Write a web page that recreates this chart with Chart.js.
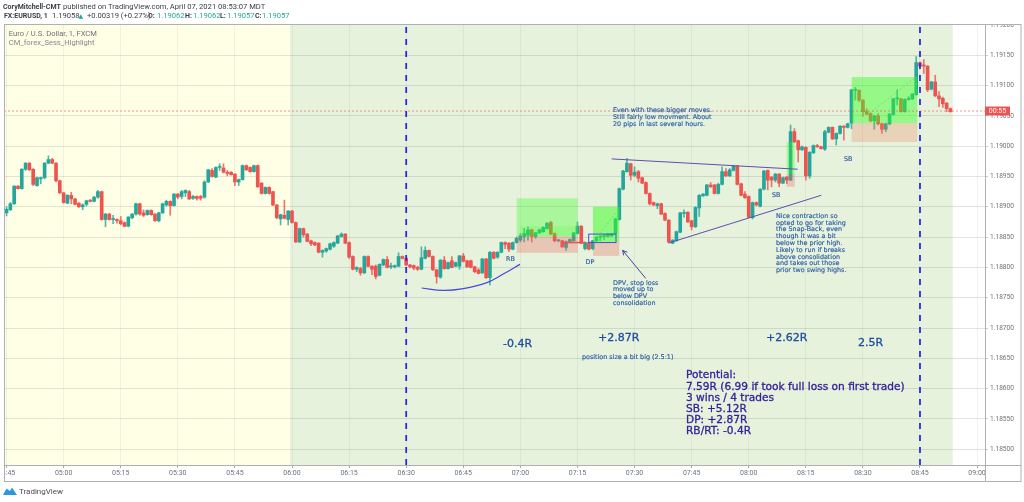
<!DOCTYPE html>
<html><head><meta charset="utf-8">
<style>html,body{margin:0;padding:0;background:#fff}canvas{display:block}</style>
<script src="https://cdn.jsdelivr.net/npm/chart.js@4/dist/chart.umd.min.js"></script>
</head><body><canvas id="c" width="1024" height="502"></canvas>
<script>
// minutes relative to 05:00; first candle is 04:45
const firstMinute = -15;
const tickMinutes = [-15,0,15,30,45,60,75,90,105,120,135,150,165,180,195,210,225,240];
const tickLabels = ['04:45','05:00','05:15','05:30','05:45','06:00','06:15','06:30','06:45','07:00','07:15','07:30','07:45','08:00','08:15','08:30','08:45','09:00'];
const priceTicks = [1.185,1.1855,1.186,1.1865,1.187,1.1875,1.188,1.1885,1.189,1.1895,1.19,1.1905,1.191,1.1915,1.192];
const opens = [
1.18890,1.18895,1.18905,1.18934,1.18930,1.18962,1.18972,1.18962,1.18935,1.18946,
1.18948,1.18972,1.18978,1.18972,1.18943,1.18923,1.18906,1.18919,1.18913,1.18906,
1.18900,1.18904,1.18911,1.18909,1.18916,1.18925,1.18879,1.18888,1.18879,1.18879,
1.18877,1.18874,1.18868,1.18882,1.18888,1.18905,1.18890,1.18887,1.18894,1.18888,
1.18877,1.18890,1.18903,1.18909,1.18902,1.18921,1.18917,1.18923,1.18925,1.18914,
1.18917,1.18917,1.18916,1.18941,1.18960,1.18949,1.18965,1.18964,1.18957,1.18957,
1.18954,1.18941,1.18945,1.18968,1.18965,1.18958,1.18968,1.18939,1.18922,1.18932,
1.18925,1.18903,1.18880,1.18886,1.18879,1.18893,1.18874,1.18842,1.18864,1.18855,
1.18844,1.18841,1.18840,1.18825,1.18827,1.18830,1.18835,1.18840,1.18851,1.18855,
1.18841,1.18818,1.18797,1.18798,1.18791,1.18818,1.18802,1.18802,1.18787,1.18804,
1.18813,1.18801,1.18801,1.18802,1.18818,1.18815,1.18804,1.18803,1.18800,1.18797,
1.18815,1.18828,1.18818,1.18796,1.18784,1.18812,1.18798,1.18811,1.18802,1.18802,
1.18819,1.18811,1.18811,1.18801,1.18796,1.18791,1.18814,1.18783,1.18825,1.18817,
1.18825,1.18841,1.18840,1.18830,1.18841,1.18845,1.18851,1.18853,1.18862,1.18851,
1.18857,1.18859,1.18864,1.18874,1.18856,1.18844,1.18844,1.18833,1.18842,1.18844,
1.18856,1.18868,1.18831,1.18841,1.18831,1.18844,1.18850,1.18851,1.18851,1.18852,
1.18856,1.18879,1.18929,1.18958,1.18971,1.18952,1.18958,1.18948,1.18940,1.18922,
1.18907,1.18902,1.18905,1.18889,1.18878,1.18840,1.18844,1.18858,1.18889,1.18891,
1.18877,1.18867,1.18898,1.18918,1.18919,1.18936,1.18936,1.18922,1.18937,1.18958,
1.18951,1.18960,1.18967,1.18938,1.18921,1.18917,1.18882,1.18907,1.18901,1.18929,
1.18960,1.18949,1.18944,1.18954,1.18939,1.18949,1.18944,1.19024,1.19009,1.18994,
1.18998,1.18951,1.18989,1.19001,1.18999,1.18995,1.19023,1.19031,1.19012,1.19021,
1.19033,1.19031,1.19038,1.19092,1.19092,1.19076,1.19057,1.19054,1.19042,1.19050,
1.19037,1.19028,1.19037,1.19052,1.19078,1.19078,1.19057,1.19077,1.19078,1.19085,
1.19138,1.19134,1.19132,1.19094,1.19106,1.19083,1.19079,1.19071,1.19062];
const closes = [
1.18896,1.18905,1.18934,1.18930,1.18962,1.18972,1.18961,1.18937,1.18948,1.18948,
1.18972,1.18978,1.18972,1.18943,1.18923,1.18907,1.18919,1.18913,1.18904,1.18900,
1.18903,1.18910,1.18909,1.18916,1.18925,1.18879,1.18888,1.18879,1.18880,1.18877,
1.18872,1.18868,1.18883,1.18888,1.18905,1.18888,1.18886,1.18894,1.18887,1.18877,
1.18890,1.18905,1.18909,1.18902,1.18921,1.18916,1.18925,1.18927,1.18913,1.18917,
1.18914,1.18914,1.18941,1.18961,1.18950,1.18965,1.18966,1.18957,1.18955,1.18953,
1.18941,1.18945,1.18968,1.18961,1.18958,1.18968,1.18933,1.18922,1.18932,1.18922,
1.18903,1.18882,1.18887,1.18881,1.18893,1.18874,1.18842,1.18864,1.18854,1.18843,
1.18839,1.18837,1.18825,1.18828,1.18831,1.18839,1.18841,1.18852,1.18855,1.18840,
1.18817,1.18797,1.18800,1.18791,1.18818,1.18802,1.18797,1.18785,1.18805,1.18813,
1.18800,1.18802,1.18803,1.18818,1.18815,1.18804,1.18801,1.18799,1.18797,1.18816,
1.18828,1.18818,1.18796,1.18785,1.18812,1.18798,1.18808,1.18800,1.18808,1.18819,
1.18810,1.18801,1.18800,1.18793,1.18790,1.18814,1.18783,1.18825,1.18815,1.18825,
1.18841,1.18838,1.18830,1.18841,1.18848,1.18852,1.18856,1.18862,1.18851,1.18857,
1.18862,1.18866,1.18873,1.18855,1.18844,1.18845,1.18834,1.18842,1.18846,1.18857,
1.18868,1.18840,1.18841,1.18830,1.18844,1.18850,1.18851,1.18852,1.18855,1.18855,
1.18880,1.18930,1.18959,1.18972,1.18952,1.18957,1.18947,1.18939,1.18922,1.18905,
1.18903,1.18905,1.18888,1.18878,1.18842,1.18845,1.18859,1.18890,1.18890,1.18875,
1.18867,1.18899,1.18919,1.18921,1.18936,1.18933,1.18922,1.18937,1.18958,1.18951,
1.18961,1.18967,1.18937,1.18919,1.18915,1.18883,1.18907,1.18903,1.18929,1.18959,
1.18944,1.18944,1.18954,1.18939,1.18948,1.18944,1.19024,1.19007,1.18994,1.18999,
1.18951,1.18990,1.19001,1.18999,1.18996,1.19024,1.19031,1.19012,1.19021,1.19033,
1.19031,1.19037,1.19093,1.19093,1.19076,1.19057,1.19053,1.19042,1.19050,1.19037,
1.19028,1.19037,1.19053,1.19078,1.19079,1.19057,1.19077,1.19078,1.19086,1.19138,
1.19132,1.19132,1.19093,1.19106,1.19083,1.19078,1.19070,1.19062,1.19057];
const highs = [
1.18900,1.18907,1.18935,1.18935,1.18963,1.18973,1.18973,1.18963,1.18949,1.18949,
1.18973,1.18984,1.18980,1.18973,1.18944,1.18924,1.18920,1.18924,1.18914,1.18907,
1.18905,1.18911,1.18912,1.18917,1.18927,1.18926,1.18889,1.18889,1.18886,1.18880,
1.18884,1.18875,1.18884,1.18889,1.18906,1.18906,1.18895,1.18895,1.18895,1.18889,
1.18891,1.18906,1.18911,1.18910,1.18922,1.18922,1.18927,1.18928,1.18927,1.18919,
1.18918,1.18919,1.18943,1.18962,1.18963,1.18966,1.18971,1.18971,1.18960,1.18958,
1.18955,1.18946,1.18969,1.18969,1.18966,1.18969,1.18969,1.18940,1.18933,1.18933,
1.18926,1.18904,1.18888,1.18911,1.18894,1.18894,1.18875,1.18865,1.18865,1.18856,
1.18845,1.18842,1.18841,1.18829,1.18832,1.18840,1.18842,1.18853,1.18857,1.18856,
1.18842,1.18819,1.18801,1.18800,1.18819,1.18819,1.18803,1.18804,1.18806,1.18814,
1.18818,1.18807,1.18804,1.18824,1.18819,1.18816,1.18805,1.18804,1.18802,1.18834,
1.18834,1.18829,1.18819,1.18797,1.18813,1.18818,1.18809,1.18818,1.18809,1.18820,
1.18823,1.18812,1.18812,1.18802,1.18798,1.18815,1.18815,1.18826,1.18826,1.18826,
1.18842,1.18842,1.18841,1.18842,1.18850,1.18856,1.18864,1.18867,1.18863,1.18858,
1.18863,1.18867,1.18874,1.18876,1.18857,1.18846,1.18845,1.18844,1.18847,1.18858,
1.18875,1.18869,1.18842,1.18842,1.18845,1.18851,1.18853,1.18854,1.18856,1.18856,
1.18881,1.18931,1.18960,1.18980,1.18972,1.18966,1.18960,1.18949,1.18941,1.18923,
1.18908,1.18906,1.18906,1.18890,1.18879,1.18846,1.18860,1.18891,1.18895,1.18892,
1.18878,1.18900,1.18920,1.18922,1.18937,1.18940,1.18937,1.18939,1.18966,1.18963,
1.18963,1.18968,1.18968,1.18939,1.18925,1.18918,1.18908,1.18908,1.18930,1.18960,
1.18961,1.18950,1.18955,1.18955,1.18949,1.18950,1.19035,1.19029,1.19010,1.19000,
1.18999,1.18991,1.19002,1.19003,1.19000,1.19026,1.19032,1.19032,1.19022,1.19034,
1.19034,1.19038,1.19094,1.19097,1.19093,1.19077,1.19062,1.19055,1.19051,1.19054,
1.19038,1.19038,1.19054,1.19079,1.19093,1.19079,1.19078,1.19082,1.19087,1.19148,
1.19139,1.19143,1.19133,1.19107,1.19117,1.19090,1.19081,1.19072,1.19063];
const lows = [
1.18885,1.18894,1.18904,1.18929,1.18929,1.18960,1.18960,1.18935,1.18934,1.18938,
1.18946,1.18971,1.18971,1.18941,1.18922,1.18906,1.18905,1.18905,1.18903,1.18899,
1.18895,1.18901,1.18908,1.18908,1.18914,1.18878,1.18867,1.18878,1.18872,1.18873,
1.18870,1.18867,1.18867,1.18880,1.18886,1.18886,1.18884,1.18886,1.18886,1.18876,
1.18875,1.18889,1.18901,1.18886,1.18901,1.18913,1.18913,1.18917,1.18912,1.18912,
1.18911,1.18911,1.18914,1.18940,1.18949,1.18948,1.18960,1.18956,1.18951,1.18952,
1.18935,1.18935,1.18944,1.18960,1.18957,1.18957,1.18932,1.18921,1.18921,1.18921,
1.18902,1.18880,1.18870,1.18880,1.18870,1.18873,1.18841,1.18841,1.18850,1.18842,
1.18836,1.18836,1.18824,1.18817,1.18825,1.18829,1.18833,1.18839,1.18850,1.18839,
1.18815,1.18796,1.18793,1.18787,1.18790,1.18801,1.18788,1.18781,1.18786,1.18803,
1.18799,1.18798,1.18799,1.18801,1.18814,1.18803,1.18799,1.18796,1.18795,1.18796,
1.18814,1.18817,1.18795,1.18774,1.18782,1.18797,1.18797,1.18799,1.18801,1.18797,
1.18809,1.18800,1.18799,1.18791,1.18789,1.18790,1.18782,1.18771,1.18814,1.18815,
1.18824,1.18831,1.18826,1.18829,1.18840,1.18842,1.18842,1.18845,1.18842,1.18848,
1.18856,1.18858,1.18863,1.18854,1.18842,1.18842,1.18833,1.18828,1.18841,1.18843,
1.18855,1.18839,1.18829,1.18829,1.18829,1.18843,1.18844,1.18846,1.18850,1.18851,
1.18855,1.18878,1.18928,1.18957,1.18944,1.18950,1.18941,1.18938,1.18921,1.18903,
1.18902,1.18897,1.18887,1.18877,1.18841,1.18839,1.18843,1.18857,1.18883,1.18874,
1.18862,1.18866,1.18884,1.18917,1.18918,1.18932,1.18921,1.18921,1.18936,1.18950,
1.18950,1.18959,1.18936,1.18918,1.18914,1.18882,1.18880,1.18902,1.18900,1.18928,
1.18928,1.18933,1.18941,1.18933,1.18938,1.18938,1.18943,1.19006,1.18974,1.18993,
1.18944,1.18947,1.18988,1.18998,1.18995,1.18993,1.19022,1.19011,1.19002,1.19020,
1.19010,1.19030,1.19029,1.19076,1.19073,1.19049,1.19052,1.19040,1.19028,1.19035,
1.19021,1.19024,1.19035,1.19051,1.19068,1.19056,1.19056,1.19076,1.19077,1.19084,
1.19131,1.19120,1.19090,1.19093,1.19082,1.19065,1.19064,1.19057,1.19056];
const lastPrice = 1.19058;
const sessionEdges = [59.5, 233.6];
const swingArcT = [94.08,99.75,105,111.2,115.5,119.9];
const swingArcP = [1.18766,1.18762,1.18765,1.18775,1.18789,1.18805];
const topTrendT = [144,192.87], topTrendP = [1.18979,1.18962];
const lowTrendT = [158.87,199.07], lowTrendP = [1.18840,1.18919];
const markerMinutes = [90,225];
// [t1,t2,p1,p2,colour]
const zones = [
 [119.04,135.07,1.18914,1.18851,'rgba(50,255,30,.33)'],
 [120.09,135.07,1.18868,1.18851,'rgba(50,255,30,.16)'],
 [119.04,135.07,1.18851,1.18824,'rgba(240,97,97,.3)'],
 [139.09,146,1.18900,1.18842,'rgba(50,255,30,.5)'],
 [139.09,146,1.18842,1.18819,'rgba(240,97,97,.3)'],
 [189.98,192.08,1.19007,1.18954,'rgba(50,255,30,.33)'],
 [189.98,192.08,1.18954,1.18933,'rgba(240,97,97,.3)'],
 [207.06,224.3,1.19114,1.19038,'rgba(50,255,30,.45)'],
 [207.06,224.3,1.19038,1.19007,'rgba(240,120,80,.25)'],
];
const boxZone = [137.96,145.13,1.18855,1.18841];
const stopLine = [130.86,136.98,1.18841];
const projections = [[140.9,1.18856,145.7,1.18895],[212.3,1.19057,224.1,1.19115]];
const arrow = [152.93,1.18782,146.89,1.18828];
const C1='#1c4fa0', C2='#2a5aa6', C3='#35209a';
const SM='6.4px', BG='11px', PT='10.6px';
const notes = [
 ['-0.4R',503,344,BG,C1],['+2.87R',598,338,BG,C1],['+2.62R',766,338,BG,C1],['2.5R',858,343,BG,C1],
 ['position size a bit big (2.5:1)',582,357,SM,C2],
 ['RB',506,259,SM,C2],['DP',585.5,262,SM,C2],['SB',772,195.5,SM,C2],['SB',844,159,SM,C2],
 ['Even with these bigger moves.',613,110,SM,C2],['Still fairly low movment. About',613,117,SM,C2],['20 pips in last several hours.',613,124,SM,C2],
 ['DPV, stop loss',613,283,SM,C2],['moved up to',613,289.7,SM,C2],['below DPV',613,296.4,SM,C2],['consolidation',613,303,SM,C2],
 ['Nice contraction so',776,216.3,SM,C2],['opted to go for taking',776,223,SM,C2],['the Snap-Back, even',776,229.8,SM,C2],['though it was a bit',776,236.6,SM,C2],['below the prior high.',776,243.3,SM,C2],['Likely to run if breaks',776,250,SM,C2],['above consolidation',776,256.9,SM,C2],['and takes out those',776,263.7,SM,C2],['prior two swing highs.',776,270.4,SM,C2],
 ['Potential:',686,375.7,PT,C3],['7.59R (6.99 if took full loss on first trade)',686,387,PT,C3],['3 wins / 4 trades',686,398,PT,C3],['SB: +5.12R',686,409.4,PT,C3],['DP: +2.87R',686,420.5,PT,C3],['RB/RT: -0.4R',686,431.6,PT,C3],
];
const GREEN='#26a69a', RED='#ef5350';
const WICKG='rgba(38,166,154,.8)', WICKR='rgba(239,83,80,.8)';
const candleColors = opens.map((o,i)=>closes[i]>=o?GREEN:RED);
const wickColors = opens.map((o,i)=>closes[i]>=o?WICKG:WICKR);
const xMin=-15.67, xMax=242.08, yMin=1.18474, yMax=1.192016;

const overlay = {
 id:'overlay',
 beforeDraw(chart){
  const {ctx,chartArea:a,scales:{x,y}}=chart;
  if(!x._wrapped){
   const f=x.drawLabels.bind(x);x._wrapped=true;
   x.drawLabels=(...r)=>{ctx.save();ctx.beginPath();ctx.rect(a.left,a.bottom,a.right-a.left,20);ctx.clip();f(...r);ctx.restore();};
   const g=y.drawLabels.bind(y);
   y.drawLabels=(...r)=>{ctx.save();ctx.beginPath();ctx.rect(a.right,a.top,40,a.bottom-a.top);ctx.clip();g(...r);ctx.restore();};
  }
  const e0=x.getPixelForValue(sessionEdges[0]),e1=x.getPixelForValue(sessionEdges[1]);
  ctx.fillStyle='#ffffe6';ctx.fillRect(a.left,a.top,e0-a.left,a.bottom-a.top);
  ctx.fillStyle='#e6f2dc';ctx.fillRect(e0,a.top,e1-e0,a.bottom-a.top);
 },
 afterDatasetDraw(chart,args){
  if(args.index!==1)return;
  const {ctx,scales:{x,y}}=chart;
  ctx.save();
  zones.forEach(z=>{const X=x.getPixelForValue(z[0]),W=x.getPixelForValue(z[1])-X,Y=y.getPixelForValue(z[2]),H=y.getPixelForValue(z[3])-Y;ctx.fillStyle=z[4];ctx.fillRect(X,Y,W,H);});
  ctx.strokeStyle='rgba(150,150,150,.55)';ctx.lineWidth=.8;ctx.setLineDash([2,2]);
  projections.forEach(p=>{ctx.beginPath();ctx.moveTo(x.getPixelForValue(p[0]),y.getPixelForValue(p[1]));ctx.lineTo(x.getPixelForValue(p[2]),y.getPixelForValue(p[3]));ctx.stroke();});
  ctx.setLineDash([]);
  ctx.strokeStyle=RED;ctx.lineWidth=1.6;ctx.beginPath();ctx.moveTo(x.getPixelForValue(stopLine[0]),y.getPixelForValue(stopLine[2]));ctx.lineTo(x.getPixelForValue(stopLine[1]),y.getPixelForValue(stopLine[2]));ctx.stroke();
  const bx=x.getPixelForValue(boxZone[0]),by=y.getPixelForValue(boxZone[2]),bw=x.getPixelForValue(boxZone[1])-bx,bh=y.getPixelForValue(boxZone[3])-by;
  ctx.strokeStyle='#4a4ae0';ctx.lineWidth=1;ctx.strokeRect(bx,by,bw,bh);
  ctx.restore();
 },
 afterDraw(chart){
  const {ctx,chartArea:a,scales:{x,y}}=chart;
  ctx.save();
  const ax=x.getPixelForValue(arrow[0]),ay=y.getPixelForValue(arrow[1]),bx=x.getPixelForValue(arrow[2]),by=y.getPixelForValue(arrow[3]);
  const ang=Math.atan2(by-ay,bx-ax);
  ctx.strokeStyle='#4a3fa8';ctx.lineWidth=1;ctx.beginPath();ctx.moveTo(ax,ay);ctx.lineTo(bx,by);
  ctx.moveTo(bx-5*Math.cos(ang-.5),by-5*Math.sin(ang-.5));ctx.lineTo(bx,by);ctx.lineTo(bx-5*Math.cos(ang+.5),by-5*Math.sin(ang+.5));ctx.stroke();
  ctx.strokeStyle='#aeb0b3';ctx.lineWidth=1;ctx.strokeRect(4.5,24.5,1016.5,457);
  ctx.beginPath();ctx.moveTo(a.right+.5,24);ctx.lineTo(a.right+.5,481);ctx.moveTo(4,a.bottom+.5);ctx.lineTo(1021,a.bottom+.5);ctx.stroke();
  ctx.textBaseline='middle';ctx.textAlign='left';
  notes.forEach(n=>{ctx.font=n[3]+' "DejaVu Sans"';ctx.fillStyle=n[4];ctx.strokeStyle=n[4];ctx.lineWidth=n[3]===SM?.15:.3;ctx.fillText(n[0],n[1],n[2]);ctx.strokeText(n[0],n[1],n[2]);});
  const py=y.getPixelForValue(lastPrice);
  ctx.fillStyle=RED;ctx.fillRect(a.right,py-4.5,25,9);
  ctx.fillStyle='#fff';ctx.font='7px Roboto';ctx.textAlign='center';ctx.fillText('00:55',a.right+12.5,py+.3);
  ctx.textAlign='left';
  const t=(s,px,py,f,c)=>{ctx.font=f;ctx.fillStyle=c;ctx.fillText(s,px,py);};
  const nb='bold 7px Roboto',nr='7.6px Roboto';
  t('CoryMitchell-CMT',3,7,nb,'#3a3d45');t('published on TradingView.com, April 07, 2021 08:53:07 MDT',63,7,nr,'#3a3d45');
  t('FX:EURUSD, 1',4,16.5,nb,'#3a3d45');t('1.19058',52,16.5,nr,'#3a3d45');t('▲',78.5,16.5,'6px "DejaVu Sans"',GREEN);t('+0.00319 (+0.27%)',87,16.5,nr,'#3a3d45');
  t('O:',148,16.5,nb,'#3a3d45');t('1.19062',157,16.5,nr,GREEN);t('H:',185,16.5,nb,'#3a3d45');t('1.19062',193,16.5,nr,GREEN);t('L:',220,16.5,nb,'#3a3d45');t('1.19057',227,16.5,nr,GREEN);t('C:',255,16.5,nb,'#3a3d45');t('1.19057',262,16.5,nr,GREEN);
  t('Euro / U.S. Dollar, 1, FXCM',8.7,33.7,nr,'#6f7278');t('CM_forex_Sess_Highlight',8.7,43.3,nr,'#85888e');
  ctx.fillStyle='#2d98e0';ctx.beginPath();ctx.moveTo(3,495);ctx.lineTo(6.5,488.5);ctx.lineTo(10,491);ctx.lineTo(12,487.5);ctx.lineTo(17,495);ctx.closePath();ctx.fill();
  t('TradingView',19,491.5,'8px Roboto','#4a4d55');
  ctx.restore();
 }
};
const lineDs=(xs,ys,color,w,extra)=>Object.assign({type:'line',data:xs.map((v,i)=>({x:v,y:ys[i]})),borderColor:color,borderWidth:w,pointRadius:0,fill:false,order:0},extra||{});
new Chart(document.getElementById('c'),{
 type:'bar',
 data:{datasets:[
  {label:'wick',data:opens.map((o,i)=>({x:firstMinute+i,y:[lows[i],highs[i]]})),backgroundColor:wickColors,barThickness:1,grouped:false,order:3},
  {label:'body',data:opens.map((o,i)=>({x:firstMinute+i,y:[o,closes[i]]})),backgroundColor:candleColors,barThickness:3,minBarLength:1,grouped:false,order:2},
  lineDs([xMin,xMax],[lastPrice,lastPrice],'rgba(239,83,80,.75)',.8,{borderDash:[2,2]}),
  lineDs(topTrendT,topTrendP,'#5d4fb3',1),
  lineDs(lowTrendT,lowTrendP,'#5d4fb3',1),
  lineDs(swingArcT,swingArcP,'#4a4ad8',1.2,{tension:.4}),
  lineDs([markerMinutes[0],markerMinutes[0]],[yMin,yMax],'#2a2ae6',1.8,{borderDash:[6,6]}),
  lineDs([markerMinutes[1],markerMinutes[1]],[yMin,yMax],'#2a2ae6',1.8,{borderDash:[6,6]}),
 ]},
 options:{
  responsive:false,animation:false,devicePixelRatio:1,
  layout:{padding:{left:4,top:24,right:3,bottom:21}},
  plugins:{legend:{display:false},title:{display:false},tooltip:{enabled:false}},
  scales:{
   x:{type:'linear',min:xMin,max:xMax,offset:false,
    afterBuildTicks:a=>{a.ticks=tickMinutes.map(v=>({value:v}));},
    afterFit:a=>{a.height=16;a.paddingLeft=0;a.paddingRight=0;},
    border:{display:false},
    grid:{offset:false,color:'rgba(110,115,120,.09)',lineWidth:1,tickLength:3,tickColor:'#aaa'},
    ticks:{autoSkip:false,maxRotation:0,minRotation:0,padding:1,font:{family:'Roboto',size:7},color:'#6f7278',callback:(v,i)=>tickLabels[i]}},
   y:{position:'right',min:yMin,max:yMax,
    afterBuildTicks:a=>{a.ticks=priceTicks.map(v=>({value:v}));},
    afterFit:a=>{a.width=36;a.paddingTop=0;a.paddingBottom=0;},
    border:{display:false},
    grid:{color:'rgba(110,115,120,.2)',lineWidth:1,tickLength:3,tickColor:'#ccc'},
    ticks:{autoSkip:false,padding:2,font:{family:'Roboto',size:6.6},color:'#6f7278',callback:v=>v.toFixed(5)}}
  }
 },
 plugins:[overlay]
});
</script></body></html>
